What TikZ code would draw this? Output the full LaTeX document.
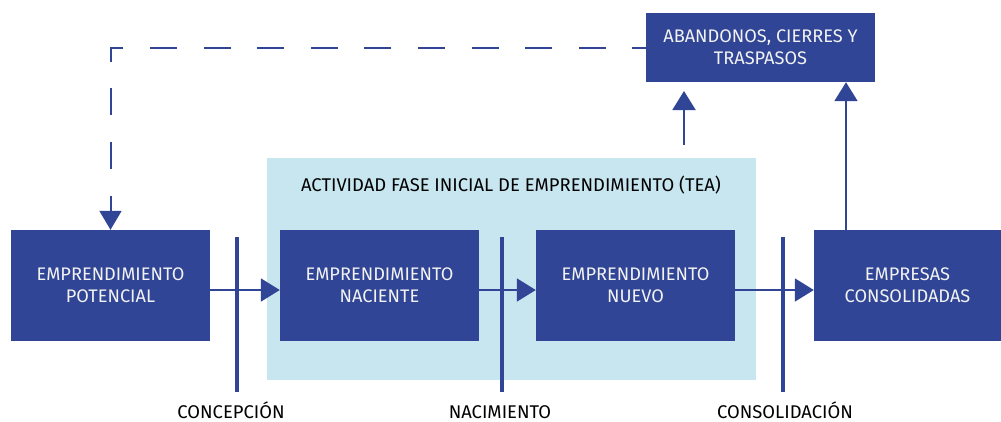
\documentclass[tikz,border=0pt]{standalone}
\usepackage{fontspec}
\setmainfont{Fira Sans}
\usetikzlibrary{arrows.meta}
\definecolor{boxblue}{HTML}{304595}
\definecolor{lightblue}{HTML}{C8E6F0}
\definecolor{txtwhite}{HTML}{F2F2F2}
\tikzset{
  blk/.style={fill=boxblue, text=txtwhite, minimum width=199pt, minimum height=111pt, inner sep=0pt, align=center, font=\fontsize{18.2}{21.7}\selectfont},
  lbl/.style={text=black, inner sep=0pt, font=\fontsize{18.4}{20}\selectfont},
  stagelbl/.style={lbl, anchor=base, text depth=0pt},
  arr/.style={draw=boxblue, line width=2pt, -{Triangle[length=19pt,width=23pt]}},
  dsh/.style={draw=boxblue, line width=2pt, dash pattern=on 27pt off 26.6pt, dash phase=13.5pt, -{Triangle[length=19pt,width=22pt]}},
  bar/.style={draw=boxblue, line width=4.5pt},
}
\begin{document}
\begin{tikzpicture}[x=1pt,y=-1pt]
\useasboundingbox (0,0) rectangle (1001,421);
\node[fill=lightblue, minimum width=489pt, minimum height=222pt, inner sep=0pt] (tea) at (511.5,269) {};
\node[lbl] (tealbl) at (511,185) {ACTIVIDAD FASE INICIAL DE EMPRENDIMIENTO (TEA)};
\node[blk] (pot) at (110.5,285.5) {EMPRENDIMIENTO\\POTENCIAL};
\node[blk] (nac) at (379.5,285.5) {EMPRENDIMIENTO\\NACIENTE};
\node[blk] (nue) at (635.5,285.5) {EMPRENDIMIENTO\\NUEVO};
\node[blk, minimum width=187pt] (emp) at (907.5,285.5) {EMPRESAS\\CONSOLIDADAS};
\node[blk, minimum width=229pt, minimum height=69pt] (ab) at (760.5,47.5) {ABANDONOS, CIERRES Y\\TRASPASOS};
% bars
\coordinate (b1t) at (237,237); \coordinate (b1b) at (237,392);
\coordinate (b2t) at (502,237); \coordinate (b2b) at (502,392);
\coordinate (b3t) at (783,237); \coordinate (b3b) at (783,392);
\draw[bar] (b1t) -- (b1b);
\draw[bar] (b2t) -- (b2b);
\draw[bar] (b3t) -- (b3b);
\node[stagelbl] (l1) at (231,418) {CONCEPCIÓN};
\node[stagelbl] (l2) at (500,418) {NACIMIENTO};
\node[stagelbl] (l3) at (785,418) {CONSOLIDACIÓN};
% horizontal arrows
\draw[arr] ([yshift=-4.5pt]pot.east) -- ([yshift=-4.5pt]nac.west);
\draw[arr] ([yshift=-4.5pt]nac.east) -- ([yshift=-4.5pt]nue.west);
\draw[arr] ([yshift=-4.5pt]nue.east) -- ([yshift=-4.5pt]emp.west);
% up arrows
\coordinate (u1s) at (684,145); \coordinate (u1e) at (684,91);
\draw[arr] (u1s) -- (u1e);
\coordinate (u2) at (846,0);
\draw[arr] (u2 |- emp.north) -- (u2 |- ab.south);
% dashed
\draw[dsh] (ab.west) -| (pot.north);
\end{tikzpicture}
\end{document}
